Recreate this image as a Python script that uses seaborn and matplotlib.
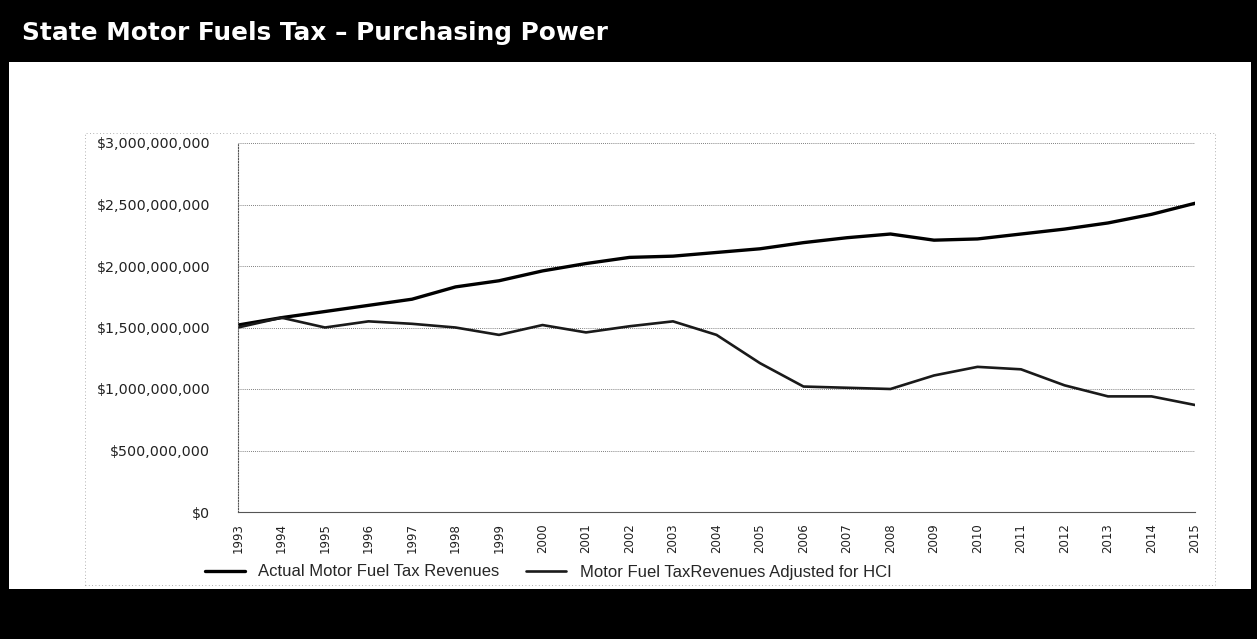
import matplotlib
matplotlib.use("Agg")
import matplotlib.pyplot as plt
import matplotlib.patches as mpatches
import matplotlib.ticker as mticker
import seaborn as sns
import pandas as pd

years = list(range(1993, 2016))
actual = [1.52, 1.58, 1.63, 1.68, 1.73, 1.83, 1.88, 1.96, 2.02, 2.07, 2.08, 2.11,
          2.14, 2.19, 2.23, 2.26, 2.21, 2.22, 2.26, 2.30, 2.35, 2.42, 2.51]
adjusted = [1.50, 1.58, 1.50, 1.55, 1.53, 1.50, 1.44, 1.52, 1.46, 1.51, 1.55, 1.44,
            1.21, 1.02, 1.01, 1.00, 1.11, 1.18, 1.16, 1.03, 0.94, 0.94, 0.87]
series_names = ["Actual Motor Fuel Tax Revenues", "Motor Fuel TaxRevenues Adjusted for HCI"]
title = "State Motor Fuels Tax \u2013 Purchasing Power"

df = pd.DataFrame({
    "Year": years * 2,
    "Value": [v * 1e9 for v in actual] + [v * 1e9 for v in adjusted],
    "Series": [series_names[0]] * len(years) + [series_names[1]] * len(years),
})

sns.set_theme(style="white")
plt.rcParams["font.family"] = ["DejaVu Sans"]

W, H = 1257, 639
fig = plt.figure(figsize=(W / 100, H / 100), dpi=100)
fig.patch.set_facecolor("white")

# header band and borders
fig.patches.append(mpatches.Rectangle((0, 1 - 62 / H), 1, 62 / H, transform=fig.transFigure,
                                      facecolor="black", edgecolor="none", zorder=0))
fig.patches.append(mpatches.Rectangle((0, 0), 1, 50 / H, transform=fig.transFigure,
                                      facecolor="black", edgecolor="none", zorder=0))
fig.patches.append(mpatches.Rectangle((0, 0), 9 / W, 1, transform=fig.transFigure,
                                      facecolor="black", edgecolor="none", zorder=0))
fig.patches.append(mpatches.Rectangle((1 - 6 / W, 0), 6 / W, 1, transform=fig.transFigure,
                                      facecolor="black", edgecolor="none", zorder=0))
# faint dotted chart frame
fig.patches.append(mpatches.Rectangle((85 / W, 1 - 585 / H), 1130 / W, 452 / H,
                                      transform=fig.transFigure, facecolor="none",
                                      edgecolor="#999999", linestyle=(0, (1, 3)), lw=0.6, zorder=1))

fig.text(22 / W, 1 - 33 / H, title, color="white", fontsize=17.8, fontweight="bold",
         va="center", ha="left", family=["DejaVu Sans"])

ax = fig.add_axes([238 / W, 1 - 512 / H, (1195 - 238) / W, (512 - 143) / H])
sns.lineplot(data=df, x="Year", y="Value", hue="Series", ax=ax,
             palette=["#000000", "#1a1a1a"], legend=False)
for line, lw in zip(ax.get_lines(), [2.4, 1.9]):
    line.set_linewidth(lw)

ax.set_xlim(1993, 2015)
ax.set_ylim(0, 3e9)
ax.set_yticks([i * 5e8 for i in range(7)])
ax.yaxis.set_major_formatter(mticker.FuncFormatter(lambda v, p: "${:,.0f}".format(v)))
ax.set_xticks(years)
ax.set_xticklabels([str(y) for y in years], rotation=90, fontsize=8.5, color="#222222")
ax.tick_params(axis="y", labelsize=10.3, labelcolor="#222222", pad=14)
ax.tick_params(axis="x", pad=2)
ax.set_xlabel("")
ax.set_ylabel("")
ax.grid(axis="y", color="#555555", linestyle=(0, (1, 1.5)), linewidth=0.6)
for s in ["top", "right"]:
    ax.spines[s].set_visible(False)
ax.spines["left"].set_color("#555555")
ax.spines["left"].set_linestyle((0, (1, 1.5)))
ax.spines["left"].set_linewidth(0.8)
ax.spines["bottom"].set_color("#555555")
ax.spines["bottom"].set_linewidth(0.8)

handles = [plt.Line2D([], [], color="#000000", lw=2.4),
           plt.Line2D([], [], color="#1a1a1a", lw=1.9)]
fig.legend(handles, series_names, loc="center left", bbox_to_anchor=(190 / W, 1 - 572 / H),
           ncol=2, frameon=False, handlelength=2.4, columnspacing=1.6,
           prop={"family": "Liberation Sans", "size": 12})

fig.savefig("out.png", dpi=100, facecolor="white")
